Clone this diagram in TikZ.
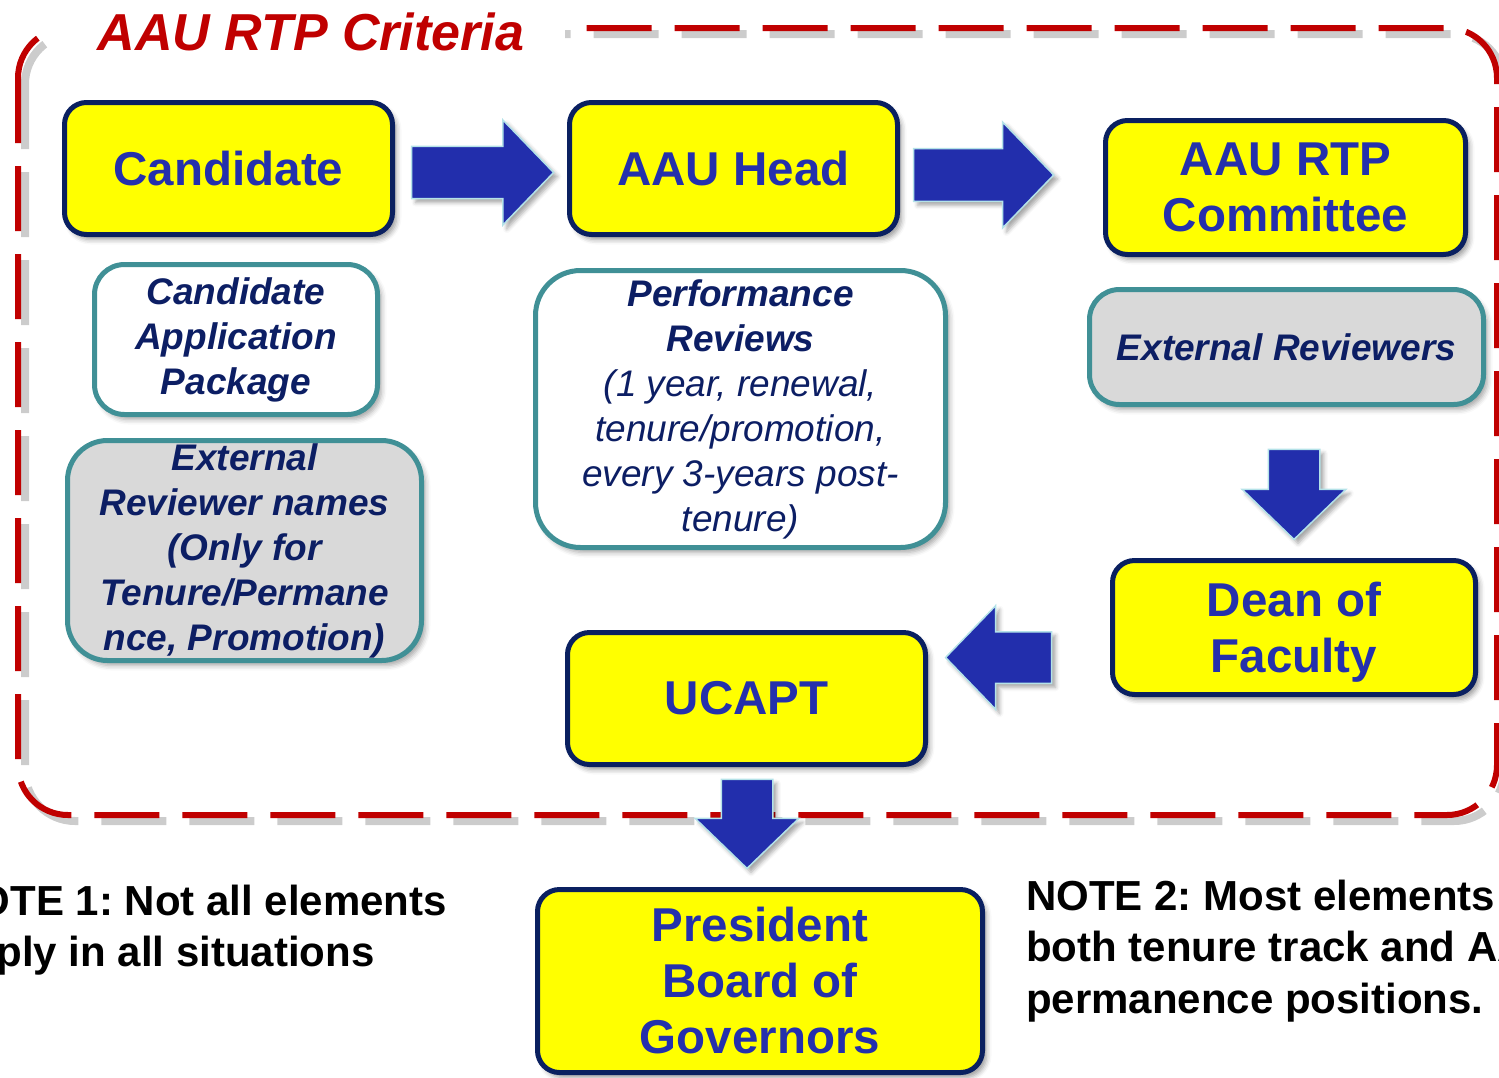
\documentclass[tikz,border=0pt]{standalone}
\usepackage{fontspec}
\setmainfont{Liberation Sans}
\usetikzlibrary{shapes.arrows,shadows.blur}
\definecolor{stageyellow}{RGB}{255,255,0}
\definecolor{stagenavy}{RGB}{10,32,96}
\definecolor{stageblue}{RGB}{36,48,172}
\definecolor{notenavy}{RGB}{12,30,100}
\definecolor{noteteal}{RGB}{64,144,150}
\definecolor{notegrey}{RGB}{217,217,217}
\definecolor{framered}{RGB}{192,0,0}
\definecolor{arrowblue}{RGB}{34,46,172}
\definecolor{arrowrim}{RGB}{180,226,232}
\tikzset{
    %Define style for the yellow stages
    stage/.style={
           rectangle,
           rounded corners=22pt,
           draw=stagenavy, line width=5pt,
           fill=stageyellow,
           text=stageblue,
           inner sep=0pt,
           font=\fontsize{47.5}{56}\selectfont\bfseries,
           align=center,
           blur shadow={shadow xshift=4pt, shadow yshift=-5pt,
                        shadow blur radius=5pt, shadow opacity=40}
           },
    %Define style for the teal documents
    doc/.style={
           rectangle,
           rounded corners=30pt,
           draw=noteteal, line width=5pt,
           fill=white,
           text=notenavy,
           inner sep=0pt,
           font=\fontsize{37}{45}\selectfont\bfseries\itshape,
           align=center,
           blur shadow={shadow xshift=4pt, shadow yshift=-5pt,
                        shadow blur radius=5pt, shadow opacity=35}
           },
    docgrey/.style={doc, fill=notegrey},
    %Define style for block arrows
    bigarrow/.style={
           single arrow,
           draw=arrowrim, line width=1.5pt,
           fill=arrowblue,
           inner sep=25pt,
           single arrow head extend=26pt,
           single arrow tip angle=92,
           blur shadow={shadow xshift=4pt, shadow yshift=-4pt,
                        shadow blur radius=4pt, shadow opacity=35}
           },
    % Define dashed border and title
    rtpframe/.style={
           draw=framered, line width=6pt,
           dash pattern=on 65pt off 23pt,
           rounded corners=50pt},
    rtptitle/.style={
           fill=white,
           text=framered,
           inner xsep=41pt, inner ysep=3pt,
           font=\fontsize{52}{60}\selectfont\bfseries\itshape},
    note/.style={
           inner sep=0pt,
           align=left,
           font=\fontsize{42}{51.5}\selectfont\bfseries\frenchspacing}
}
\begin{document}
\begin{tikzpicture}[x=1pt,y=-1pt]
\useasboundingbox (0,0) rectangle (1499,1077);
\clip (0,0) rectangle (1499,1077);

 %border
\draw[rtpframe, draw=black, opacity=0.2, line width=8pt] (25,34) rectangle (1504,821);
\draw[rtpframe] (18,28) rectangle (1497,815);
\node[rtptitle, anchor=base] (title) at (311,50) {AAU RTP Criteria};

 %stages
\node[stage, minimum width=328pt, minimum height=132pt] (cand) at (228.5,168.5) {Candidate};
\node[stage, minimum width=328pt, minimum height=132pt] (head) at (733.5,168.5) {AAU Head};
\node[stage, minimum width=360pt, minimum height=134pt] (rtpc) at (1285.5,187.5) {AAU RTP\\Committee};
\node[stage, minimum width=363pt, minimum height=134pt] (dean) at (1294,627.5) {\rule{0pt}{44pt}Dean of\\Faculty};
\node[stage, minimum width=358pt, minimum height=132pt] (ucapt) at (746.5,698.5) {UCAPT};
\node[stage, minimum width=445pt, minimum height=183pt] (pres) at (760,981) {President\\Board of\\Governors};

 %documents
\node[doc, minimum width=283pt, minimum height=150pt] (capkg) at (236,339.5)
    {Candidate\\Application\\Package};
\node[docgrey, rounded corners=40pt, minimum width=354pt, minimum height=220pt] (ernames) at (244.5,550.5)
    {External\\Reviewer names\\(Only for\\Tenure/Permane\\nce, Promotion)};
\node[doc, rounded corners=45pt, minimum width=410pt, minimum height=277pt,
      font=\fontsize{37}{45}\selectfont\mdseries\itshape] (perf) at (740.5,409)
    {\textbf{Performance}\\\textbf{Reviews}\\(1 year, renewal,\\tenure/promotion,\\every 3-years post-\\tenure)};
\node[docgrey, minimum width=394pt, minimum height=115pt] (extrev) at (1286.5,347) {External Reviewers};

 %arrows
\node[bigarrow, minimum height=142pt, minimum width=105pt] (a1) at (470,172.5) {};
\node[bigarrow, minimum height=140pt, minimum width=106pt] (a2) at (971,175) {};
\node[bigarrow, shape border rotate=270, minimum height=90pt, minimum width=102pt] (a3) at (1294,482) {};
\node[bigarrow, shape border rotate=180, minimum height=106pt, minimum width=99pt] (a4) at (1011,657.5) {};
\node[bigarrow, shape border rotate=270, minimum height=89pt, minimum width=100pt] (a5) at (747,811.5) {};

 %notes
\node[note, anchor=north east] (note1) at (447,884.4) {NOTE 1: Not all elements\\apply in all situations};
\node[note, anchor=north west] (note2) at (1026,879.4) {NOTE 2: Most elements\\both tenure track and AAU\\permanence positions.};

\end{tikzpicture}
\end{document}
